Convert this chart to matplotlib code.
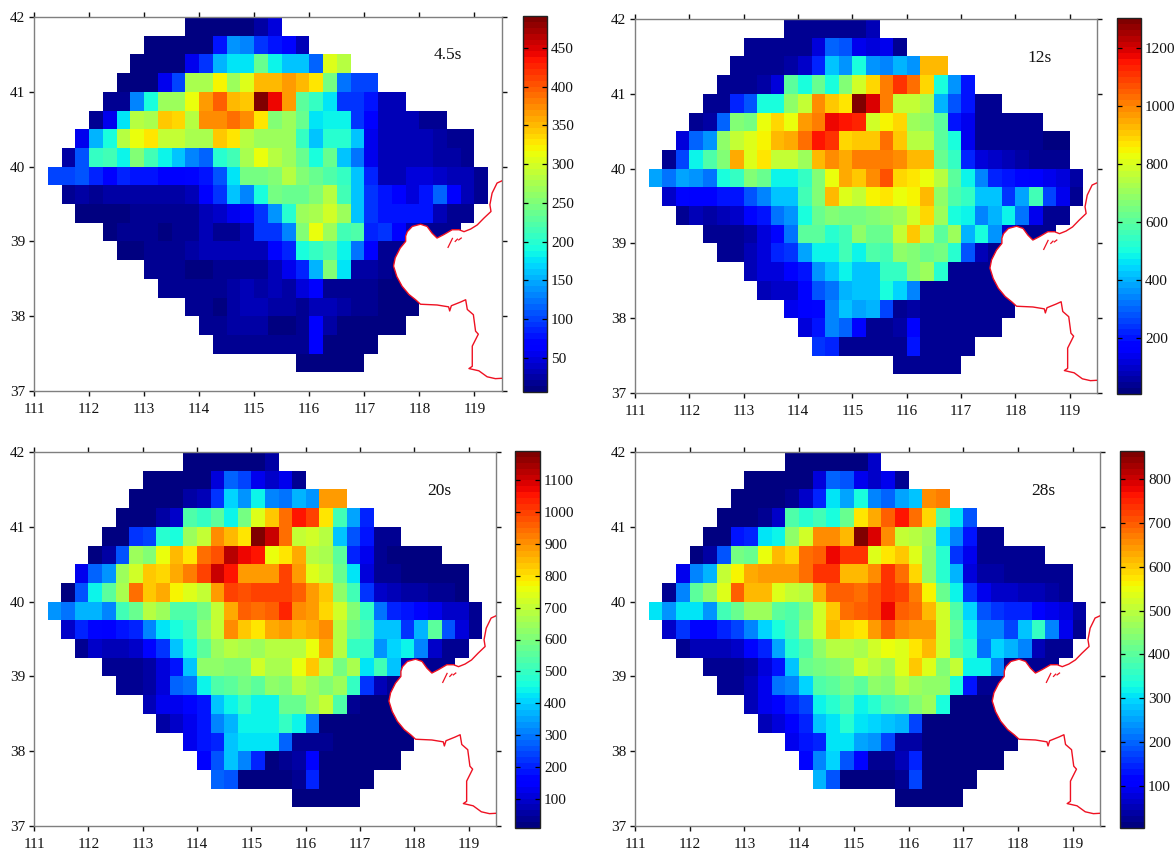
import numpy as np
import matplotlib
matplotlib.use("Agg")
import matplotlib.pyplot as plt

plt.rcParams['font.family'] = ['Liberation Serif', 'DejaVu Serif']

LON0, DLON = 111.25, 0.25
LAT_TOP, DLAT = 42.0, 0.25
row_start = [10, 7, 6, 5, 4, 3, 2, 1, 0, 1, 2, 4, 5, 7, 8, 10, 11, 12, 18]

p45 = [
 [10,10,10,10,10,25,50],
 [10,10,10,10,10,75,135,130,95,75,70,30],
 [10,10,10,10,55,90,150,180,180,235,185,160,160,115,305,285],
 [10,10,10,55,100,275,275,320,265,305,350,350,365,350,330,245,125,100,100],
 [15,15,130,195,265,265,310,365,395,350,345,491,445,365,230,205,175,95,95,75,30,30],
 [20,55,180,285,275,340,335,285,370,375,390,370,325,250,270,235,175,185,185,90,65,30,35,30,20,20],
 [55,155,190,280,315,330,290,290,275,275,345,325,285,270,265,265,210,160,200,200,160,55,30,35,35,30,25,15,15],
 [25,105,205,215,185,255,215,185,165,130,115,200,215,275,310,285,265,235,190,235,165,125,55,30,35,30,30,25,25,15],
 [100,100,110,85,60,85,75,75,65,65,70,80,105,180,245,245,255,280,250,240,225,210,165,85,35,35,50,50,40,35,35,20],
 [15,25,20,25,25,25,25,25,25,30,60,90,165,130,195,245,235,240,255,285,215,160,95,80,60,45,75,115,60,35,20],
 [12,12,12,12,18,15,18,20,20,30,40,55,60,90,140,200,270,275,295,265,165,95,75,75,80,80,35,15,15],
 [12,15,15,18,12,15,15,30,20,20,30,90,95,130,250,310,270,215,220,85,95,60,30,20,15,15],
 [12,12,18,15,20,25,30,30,30,30,30,70,85,190,205,225,185,120,60,20,15],
 [15,18,18,12,12,20,20,20,20,30,55,85,150,250,180,22,22,15,12],
 [15,18,18,20,20,22,30,28,30,28,50,65,18,20,18,15,12,12,12],
 [15,18,12,25,30,30,25,25,20,30,30,25,20,15,12,12,12],
 [15,18,25,25,25,12,12,18,60,28,12,12,12,12,12],
 [20,20,15,15,15,15,18,60,12,12,12,12],
 [10,10,10,10,10],
]

p12 = [
 [30,30,30,30,30,45,80],
 [30,30,30,30,30,120,302,274,140,110,140,45],
 [30,30,30,30,55,95,217,426,369,493,360,331,407,369,922,922],
 [30,30,30,55,110,598,512,617,512,655,779,893,1017,1113,1027,884,503,360,207],
 [30,30,226,283,512,512,693,760,979,903,874,1303,1189,1017,769,760,722,407,274,190,35,35],
 [30,65,293,674,636,817,884,827,960,1008,1170,1141,1132,779,846,893,712,693,598,207,130,30,30,35,30,30],
 [110,293,360,693,760,807,846,922,950,1027,1160,1113,893,912,912,1027,912,750,750,598,493,130,45,40,35,33,30,26,26],
 [35,255,474,588,674,941,807,865,760,760,703,922,979,950,1008,1008,1008,989,922,922,626,541,217,120,95,85,55,45,35,30],
 [379,312,388,369,322,493,550,674,626,484,484,550,674,827,950,912,979,1065,884,865,836,741,598,484,341,226,200,180,150,130,120,55],
 [90,180,150,150,190,200,283,331,426,426,560,674,922,798,769,846,865,817,856,922,693,579,550,417,417,236,388,569,255,130,35],
 [45,75,65,85,95,170,207,312,360,493,626,655,636,645,665,693,703,779,884,703,493,484,350,407,474,322,130,35,35],
 [35,40,45,65,117,180,312,598,598,531,560,693,617,617,769,912,750,598,703,398,512,360,95,40,35,35],
 [35,40,75,110,226,236,388,474,484,560,484,579,569,684,665,617,645,531,274,85,40],
 [75,120,120,160,190,360,426,484,417,417,550,550,665,703,522,35,33,30,30],
 [70,95,100,170,283,312,407,417,417,493,446,341,30,30,30,30,30,30,30],
 [130,160,170,341,426,388,407,264,45,60,40,35,30,30,30,30,30],
 [120,200,331,293,180,35,40,55,170,35,30,30,30,30,30],
 [236,217,30,30,30,30,40,207,30,30,30,30],
 [30,30,30,30,30],
]

p20 = [
 [20,20,20,20,20,20,60],
 [20,20,20,20,20,110,280,240,120,100,120,40],
 [20,20,20,20,50,70,220,400,340,450,320,300,370,340,880,880],
 [20,20,20,50,100,540,490,550,450,590,740,830,940,1050,990,800,510,350,210],
 [20,20,220,240,480,460,640,710,900,850,800,1191,1110,950,710,720,680,390,260,190,30,30],
 [20,50,260,640,600,750,850,800,950,980,1120,1080,1050,760,790,860,690,670,550,200,120,35,25,25,20,20],
 [120,280,340,650,720,840,820,860,920,1000,1110,1050,880,890,890,990,880,740,700,570,430,110,35,30,25,25,20,15,15],
 [25,250,450,560,660,950,840,860,770,745,700,880,1000,970,1000,1000,1000,960,880,840,630,520,220,90,70,60,50,40,30,25],
 [340,290,370,370,320,510,570,680,650,530,530,590,700,860,960,940,960,1030,900,890,820,720,600,500,300,210,180,160,130,100,90,40],
 [90,210,160,150,180,210,320,430,460,500,620,700,900,830,790,870,880,850,860,900,690,570,540,390,380,230,370,560,250,110,30],
 [40,100,80,80,100,170,230,390,470,550,650,680,670,640,680,690,690,750,860,680,500,500,340,400,450,310,100,30,30],
 [30,35,40,60,110,190,390,620,630,600,610,720,660,660,750,830,700,590,670,430,510,380,70,35,30,30],
 [30,35,60,110,270,290,450,530,550,590,550,620,610,690,640,610,640,500,220,70,30],
 [70,120,130,170,190,380,440,500,450,440,570,570,640,700,530,30,25,20,20],
 [60,90,120,190,310,370,440,440,440,500,440,300,20,20,20,20,20,20,20],
 [130,190,200,390,420,420,430,280,40,45,30,25,20,20,20,20,20],
 [140,260,380,310,200,25,30,60,170,25,20,20,20,20,20],
 [280,260,20,20,20,20,30,210,20,20,20,20],
 [20,20,20,20,20],
]

p28 = [
 [15,15,15,15,15,15,60],
 [15,15,15,15,15,80,200,190,90,70,85,30],
 [15,15,15,15,30,60,140,300,250,330,220,195,250,280,650,670],
 [15,15,15,30,60,385,340,370,330,420,570,630,690,760,680,590,390,310,180],
 [15,15,130,150,300,320,460,520,660,650,620,864,790,660,510,490,470,290,230,130,30,25],
 [15,35,190,430,420,550,610,590,680,690,770,730,730,530,580,600,530,460,350,160,85,30,30,25,20,20],
 [85,230,270,510,560,630,640,640,640,680,730,735,620,610,650,730,680,590,450,340,270,80,40,35,30,28,22,18,18],
 [20,230,400,450,530,690,620,620,530,510,500,630,690,700,680,710,730,720,670,560,420,320,160,95,70,70,55,50,40,20],
 [310,240,300,300,240,370,410,470,470,400,390,430,520,600,680,690,710,780,700,680,620,520,390,290,190,160,150,150,110,85,75,35],
 [70,160,120,120,150,170,220,290,330,370,460,520,610,590,580,640,700,660,640,640,520,420,320,230,220,170,280,360,220,85,25],
 [25,50,45,45,70,120,150,250,340,390,460,490,500,480,520,550,530,580,620,520,390,340,210,290,260,220,55,25,25],
 [20,20,25,40,80,130,280,420,430,440,450,520,490,470,540,600,530,440,510,320,320,220,30,25,20,20],
 [20,30,50,95,210,220,290,390,400,430,400,460,440,500,470,450,450,330,130,30,20],
 [55,85,100,140,170,320,350,390,320,340,390,400,440,470,330,15,15,15,15],
 [50,75,110,150,280,310,340,300,290,280,270,170,15,15,15,15,15,15,15],
 [90,130,150,300,300,250,240,170,40,40,15,15,15,15,15,15,15],
 [120,230,290,180,120,18,25,45,140,15,15,15,15,15,15],
 [260,190,15,15,15,15,25,170,15,15,15,15],
 [15,15,15,15,15],
]

coast_lon = [119.50,119.41,119.32,119.28,119.30,119.17,119.05,118.93,118.81,118.72,118.595,118.44,118.32,118.23,118.14,118.02,117.87,117.78,117.75,117.75,117.65,117.56,117.53,117.59,117.685,117.81,117.93,118.02,118.32,118.53,118.55,118.58,118.75,118.84,118.87,118.98,119.02,119.07,118.96,118.96,118.90,119.08,119.23,119.38,119.50]
coast_lat = [39.81,39.78,39.645,39.49,39.40,39.31,39.22,39.165,39.13,39.156,39.156,39.09,39.045,39.11,39.20,39.23,39.20,39.13,39.07,39.00,38.91,38.78,38.67,38.53,38.40,38.29,38.22,38.16,38.15,38.125,38.07,38.14,38.19,38.22,38.09,38.02,37.80,37.76,37.60,37.33,37.30,37.27,37.19,37.165,37.17]
isle1_lon, isle1_lat = [118.52,118.56,118.60], [38.92,38.98,39.04]
isle2_lon, isle2_lat = [118.715,118.76], [39.02,39.045]
isle3_lon, isle3_lat = [118.65,118.69], [39.00,39.03]

labels = ['4.5s', '12s', '20s', '28s']
series = [p45, p12, p20, p28]
vmin = [6, 7, 9, 4]
vmax = [491, 1303, 1191, 864]
cticks = [list(range(50, 451, 50)), list(range(200, 1201, 200)),
          list(range(100, 1101, 100)), list(range(100, 801, 100))]
ax_px = [(34, 502, 17, 391), (635, 1097, 19, 393), (34, 496, 452, 826), (635, 1100, 452, 826)]
cb_px = [(523, 547, 16, 392), (1117, 1141, 18, 394), (515, 540, 451, 828), (1120, 1144, 451, 828)]
label_pos = [(118.51, 41.49), (118.45, 41.48), (118.45, 41.48), (118.46, 41.48)]

W, H = 1174, 850
fig = plt.figure(figsize=(W / 100, H / 100), dpi=100, facecolor='white')
cmap = plt.get_cmap('jet', 64)
lon_edges = LON0 + DLON * np.arange(33)
lat_edges = LAT_TOP - DLAT * np.arange(20)
GRAY = '#7f7f7f'
RED = '#ee1122'


def rect(px):
    l, r, t, b = px
    return [l / W, 1 - b / H, (r - l) / W, (b - t) / H]


for k in range(4):
    grid = np.full((19, 32), np.nan)
    for i, row in enumerate(series[k]):
        grid[i, row_start[i]:row_start[i] + len(row)] = row
    ax = fig.add_axes(rect(ax_px[k]))
    mesh = ax.pcolormesh(lon_edges, lat_edges, np.ma.masked_invalid(grid), cmap=cmap,
                         vmin=vmin[k], vmax=vmax[k], zorder=1, linewidth=0, antialiased=False)
    ax.fill(coast_lon, coast_lat, color='white', lw=0, zorder=2)
    ax.plot(coast_lon, coast_lat, color=RED, lw=1.0, zorder=3, solid_joinstyle='round')
    for lo, la in [(isle1_lon, isle1_lat), (isle2_lon, isle2_lat), (isle3_lon, isle3_lat)]:
        ax.plot(lo, la, color=RED, lw=0.9, zorder=3)
    ax.set_xlim(111, 119.5)
    ax.set_ylim(37, 42)
    ax.set_xticks(range(111, 120))
    ax.set_yticks(range(37, 43))
    ax.tick_params(axis='both', direction='out', length=3.3, width=1.0, color='#111111',
                   top=True, right=True, labelsize=11, labelcolor='#111111')
    ax.tick_params(axis='x', pad=5)
    ax.tick_params(axis='y', pad=3)
    for s in ax.spines.values():
        s.set_color(GRAY)
        s.set_linewidth(1.0)
    ax.text(label_pos[k][0], label_pos[k][1], labels[k], fontsize=12.5, ha='center', va='center',
            color='#111111', zorder=4)

    cax = fig.add_axes(rect(cb_px[k]))
    cb = fig.colorbar(mesh, cax=cax, ticks=cticks[k])
    cb.ax.tick_params(direction='in', length=3.5, width=0.9, left=True, right=True,
                      labelsize=11, pad=3, labelcolor='#111111')
    cb.outline.set_linewidth(1.0)
    cb.outline.set_edgecolor('#222222')

fig.savefig('out.png', dpi=100, facecolor='white')
